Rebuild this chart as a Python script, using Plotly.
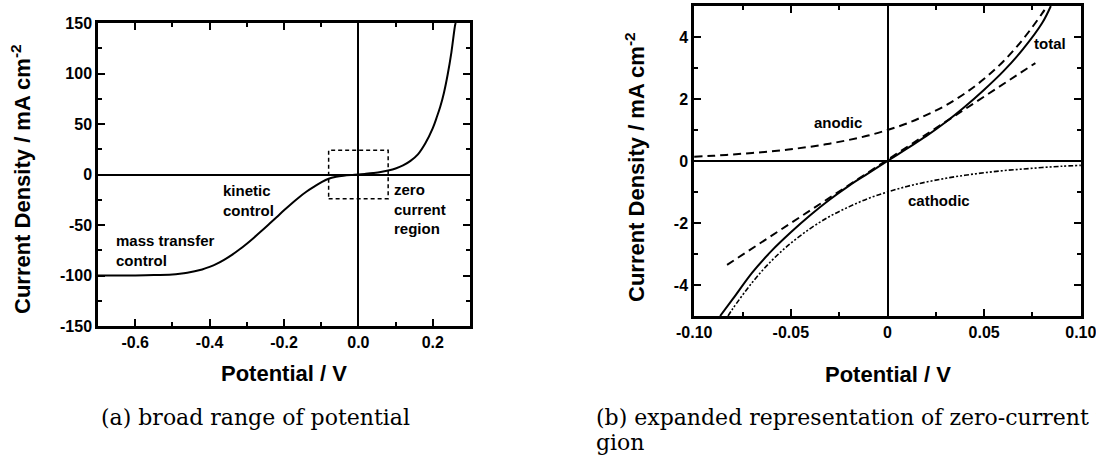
import plotly.graph_objects as go

W, H = 1096, 462

# ---------------- data: panel (a) ----------------
pot_a = [-0.70, -0.60, -0.55, -0.50, -0.48, -0.46, -0.44, -0.42, -0.40, -0.38, -0.36, -0.34,
         -0.32, -0.30, -0.28, -0.26, -0.24, -0.22, -0.20, -0.18, -0.16, -0.14, -0.12, -0.10,
         -0.08, -0.06, -0.04, -0.02, 0.00, 0.02, 0.04, 0.06, 0.08, 0.10, 0.12, 0.14, 0.16,
         0.18, 0.20, 0.21, 0.22, 0.23, 0.24, 0.25, 0.26, 0.2615]
cur_a = [-100.0, -99.9, -99.6, -98.9, -98.2, -97.2, -95.8, -94.0, -91.5, -88.3, -84.3, -79.6,
         -74.3, -68.5, -62.3, -55.8, -49.1, -42.3, -35.5, -28.9, -22.7, -17.1, -12.3, -7.8,
         -4.2, -2.3, -1.2, -0.5, 0.0, 0.7, 1.5, 2.5, 4.0, 6.0, 9.0, 13.5, 20.0,
         31.0, 46.0, 56.0, 67.0, 81.0, 99.0, 121.0, 148.0, 150.0]
box_a = [-0.08, 0.08, -24.0, 24.0]

# ---------------- data: panel (b) ----------------
pot_total = [-0.0866, -0.08, -0.07, -0.06, -0.05, -0.04, -0.03, -0.02, -0.01, 0.0,
             0.01, 0.02, 0.03, 0.04, 0.05, 0.06, 0.07, 0.08, 0.0845]
cur_total = [-5.0, -4.45, -3.6, -2.9, -2.3, -1.75, -1.25, -0.8, -0.4, 0.0,
             0.4, 0.8, 1.25, 1.75, 2.3, 2.9, 3.6, 4.45, 5.0]
pot_anodic = [-0.10, -0.09, -0.08, -0.07, -0.06, -0.05, -0.04, -0.03, -0.02, -0.01, 0.0,
              0.01, 0.02, 0.03, 0.04, 0.05, 0.06, 0.07, 0.08, 0.0825]
cur_anodic = [0.14, 0.17, 0.21, 0.26, 0.31, 0.38, 0.46, 0.56, 0.68, 0.82, 1.0,
              1.21, 1.48, 1.79, 2.18, 2.65, 3.22, 3.92, 4.76, 5.0]
pot_cathodic = [-0.0825, -0.08, -0.07, -0.06, -0.05, -0.04, -0.03, -0.02, -0.01, 0.0,
                0.01, 0.02, 0.03, 0.04, 0.05, 0.06, 0.07, 0.08, 0.09, 0.10]
cur_cathodic = [-5.0, -4.76, -3.92, -3.22, -2.65, -2.18, -1.79, -1.48, -1.21, -1.0,
                -0.82, -0.68, -0.56, -0.46, -0.38, -0.31, -0.26, -0.21, -0.17, -0.14]
pot_linear = [-0.083, 0.0765]
cur_linear = [-3.35, 3.16]

xt_a = [-0.6, -0.4, -0.2, 0.0, 0.2]
xt_a_lbl = ["-0.6", "-0.4", "-0.2", "0.0", "0.2"]
yt_a = [150, 100, 50, 0, -50, -100, -150]
yt_a_lbl = ["150", "100", "50", "0", "-50", "-100", "-150"]
xt_b = [-0.10, -0.05, 0.0, 0.05, 0.10]
xt_b_lbl = ["-0.10", "-0.05", "0", "0.05", "0.10"]
yt_b = [4, 2, 0, -2, -4]
yt_b_lbl = ["4", "2", "0", "-2", "-4"]

SANS = "Liberation Sans, Arial, sans-serif"
SERIF = "DejaVu Serif, serif"


def px(x):
    return x / W


def py(y):
    return 1 - y / H


fig = go.Figure()
fig.add_trace(go.Scatter(x=pot_a, y=cur_a, mode="lines", line=dict(color="black", width=2, shape="spline"),
                         xaxis="x", yaxis="y", showlegend=False))
fig.add_trace(go.Scatter(x=pot_linear, y=cur_linear, mode="lines", line=dict(color="black", width=2, dash="8px,5px"),
                         xaxis="x2", yaxis="y2", showlegend=False))
fig.add_trace(go.Scatter(x=pot_anodic, y=cur_anodic, mode="lines", line=dict(color="black", width=2, dash="8px,5px", shape="spline"),
                         xaxis="x2", yaxis="y2", showlegend=False))
fig.add_trace(go.Scatter(x=pot_cathodic, y=cur_cathodic, mode="lines",
                         line=dict(color="black", width=1.6, dash="5px,2px,2px,2px,2px,2px", shape="spline"),
                         xaxis="x2", yaxis="y2", showlegend=False))
fig.add_trace(go.Scatter(x=pot_total, y=cur_total, mode="lines", line=dict(color="black", width=2, shape="spline"),
                         xaxis="x2", yaxis="y2", showlegend=False))

tickfont = dict(family=SANS, size=16, color="black", weight="bold")
common = dict(showline=True, linecolor="black", linewidth=2.5, mirror="ticks", ticks="inside",
              ticklen=7, tickwidth=2, tickcolor="black", showgrid=False, zeroline=True,
              zerolinecolor="black", zerolinewidth=2, tickfont=tickfont, fixedrange=True,
              automargin=False, tickmode="array", ticklabeloverflow="allow")
minor = dict(ticks="inside", ticklen=4, tickwidth=1.5, tickcolor="black", showgrid=False)

fig.update_layout(
    template="none",
    width=W, height=H, margin=dict(l=0, r=0, t=0, b=0, autoexpand=False),
    paper_bgcolor="white", plot_bgcolor="white",
    xaxis=dict(domain=[px(98), px(470)], range=[-0.7, 0.3], tickvals=xt_a, ticktext=xt_a_lbl,
               minor=dict(dtick=0.1, tick0=-0.7, **minor), anchor="y", **common),
    yaxis=dict(domain=[py(326), py(23)], range=[-150, 150], tickvals=yt_a, ticktext=yt_a_lbl,
               minor=dict(dtick=25, tick0=-150, **minor), anchor="x", **common),
    xaxis2=dict(domain=[px(694), px(1081)], range=[-0.1001, 0.1001], tickvals=xt_b, ticktext=xt_b_lbl,
                minor=dict(dtick=0.025, tick0=-0.1, **minor), anchor="y2", **common),
    yaxis2=dict(domain=[py(316), py(6)], range=[-5, 5], tickvals=yt_b, ticktext=yt_b_lbl,
                minor=dict(dtick=1, tick0=-5, **minor), anchor="x2", **common),
)

fig.add_shape(type="rect", xref="x", yref="y", x0=box_a[0], x1=box_a[1], y0=box_a[2], y1=box_a[3],
              line=dict(color="black", width=1.5, dash="4px,3px"))

title_font = dict(family=SANS, size=22, color="black", weight="bold")
label_font = dict(family=SANS, size=15, color="black", weight="bold")
cap_font = dict(family=SERIF, size=22, color="black")

ann = []
# axis titles
ann.append(dict(text="Potential / V", x=px(284), y=py(373), font=title_font))
ann.append(dict(text="Potential / V", x=px(888), y=py(374), font=title_font))
ann.append(dict(text="Current Density / mA cm<sup>-2</sup>", x=px(21), y=py(179), font=title_font, textangle=-90))
ann.append(dict(text="Current Density / mA cm<sup>-2</sup>", x=px(635), y=py(167), font=title_font, textangle=-90))
# in-plot labels, panel (a)
ann.append(dict(text="kinetic<br>control", x=px(222), y=py(200), font=label_font, xanchor="left", align="left"))
ann.append(dict(text="mass transfer<br>control", x=px(115), y=py(250), font=label_font, xanchor="left", align="left"))
ann.append(dict(text="zero<br>current<br>region", x=px(393), y=py(209), font=label_font, xanchor="left", align="left"))
# in-plot labels, panel (b)
ann.append(dict(text="anodic", x=px(813), y=py(123), font=label_font, xanchor="left"))
ann.append(dict(text="total", x=px(1033), y=py(43), font=label_font, xanchor="left"))
ann.append(dict(text="cathodic", x=px(907), y=py(200), font=label_font, xanchor="left"))
# captions
ann.append(dict(text="(a) broad range of potential", x=px(100), y=py(417), font=cap_font, xanchor="left"))
ann.append(dict(text="(b) expanded representation of zero-current re-", x=px(595), y=py(417), font=cap_font, xanchor="left"))
ann.append(dict(text="gion", x=px(595), y=py(442), font=cap_font, xanchor="left"))

for a in ann:
    a.setdefault("xanchor", "center")
    a.update(xref="paper", yref="paper", yanchor="middle", showarrow=False, borderpad=0)
fig.update_layout(annotations=ann)

fig.write_html("out.html")
